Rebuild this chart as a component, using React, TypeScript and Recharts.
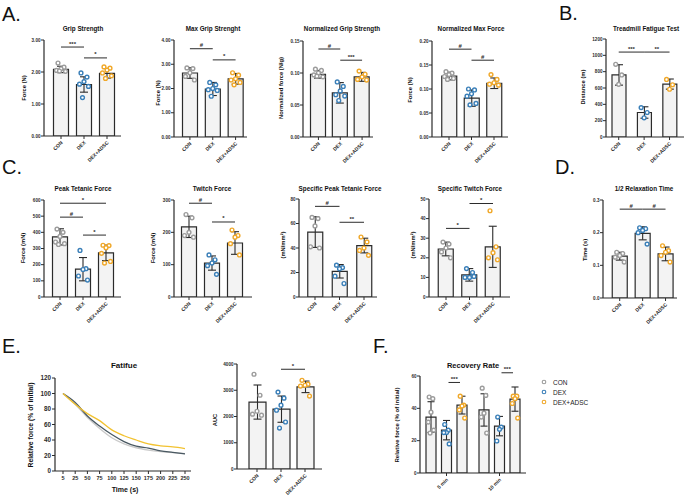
import React from "react";
import {
  ComposedChart,
  LineChart,
  Line,
  Bar,
  ErrorBar,
  Scatter,
  XAxis,
  YAxis,
  ReferenceLine,
  ReferenceDot,
} from "recharts";

const FONT = '"Liberation Sans", Arial, Helvetica, sans-serif';
const INK = "#2b2b2b";
const BAR_FILL = "#f3f3f3";
const GROUPS = ["CON", "DEX", "DEX+ADSC"];
const DOT_COLORS = ["#9c9c9c", "#3a7fb8", "#f0a82a"];
const JITTER = [-3, 3, 0, -4.5, 4.5, -1.5];

type Sig = [number, number, number, string];

// A. grip strength
const gripMean = [2.08, 1.61, 1.96];
const gripSd = [0.1, 0.24, 0.15];
const gripPts = [
  [2.28, 2.15, 2.1, 2.05, 2.02, 2.03],
  [1.97, 1.84, 1.7, 1.62, 1.55, 1.2],
  [2.16, 2.12, 2.06, 1.97, 1.88, 1.8],
];
const gripSig: Sig[] = [[0, 1, 2.78, "***"], [1, 2, 2.44, "*"]];

const maxGripMean = [2.64, 1.98, 2.4];
const maxGripSd = [0.22, 0.27, 0.22];
const maxGripPts = [
  [2.85, 2.82, 2.65, 2.5, 2.35],
  [2.25, 2.15, 2.0, 1.95, 1.92, 1.68],
  [2.65, 2.55, 2.4, 2.35, 2.25, 2.15],
];
const maxGripSig: Sig[] = [[0, 1, 3.64, "#"], [1, 2, 3.18, "*"]];

const normGripMean = [0.098, 0.069, 0.094];
const normGripSd = [0.006, 0.016, 0.007];
const normGripPts = [
  [0.106, 0.104, 0.1, 0.097, 0.094, 0.095],
  [0.086, 0.079, 0.072, 0.066, 0.064, 0.057],
  [0.103, 0.098, 0.094, 0.09, 0.089],
];
const normGripSig: Sig[] = [[0, 1, 0.1375, "#"], [1, 2, 0.12, "***"]];

const normMaxMean = [0.127, 0.081, 0.112];
const normMaxSd = [0.008, 0.017, 0.011];
const normMaxPts = [
  [0.136, 0.133, 0.13, 0.126, 0.122, 0.12],
  [0.1, 0.098, 0.09, 0.085, 0.07, 0.067],
  [0.13, 0.12, 0.113, 0.11, 0.108],
];
const normMaxSig: Sig[] = [[0, 1, 0.183, "#"], [1, 2, 0.16, "#"]];

// B. treadmill
const treadMean = [760, 300, 648];
const treadSd = [125, 70, 62];
const treadPts = [
  [890, 760, 645],
  [360, 300, 235],
  [705, 640, 585],
];
const treadSig: Sig[] = [[0, 1, 1040, "***"], [1, 2, 1040, "**"]];

// C. contractile force
const peakMean = [372, 172, 273];
const peakSd = [50, 72, 48];
const peakPts = [
  [420, 400, 375, 340, 330, 325],
  [288, 175, 170, 130, 105],
  [320, 318, 305, 270, 220, 210],
];
const peakSig: Sig[] = [[0, 2, 580, "*"], [0, 1, 494, "#"], [1, 2, 383, "*"]];

const twitchMean = [217, 105, 167];
const twitchSd = [33, 22, 35];
const twitchPts = [
  [255, 245, 200, 190, 185],
  [130, 115, 105, 97, 70],
  [207, 190, 185, 165, 130],
];
const twitchSig: Sig[] = [[0, 1, 290, "#"], [1, 2, 232, "*"]];

const specPeakMean = [53, 21, 42];
const specPeakSd = [12.5, 5.5, 6];
const specPeakPts = [
  [65, 64, 58, 41, 40],
  [26, 24, 23, 17, 11],
  [49, 45, 40, 38, 34],
];
const specPeakSig: Sig[] = [[0, 1, 74, "#"], [1, 2, 61, "**"]];

const specTwitchMean = [24.5, 11.3, 25.6];
const specTwitchSd = [3.5, 3.2, 10.5];
const specTwitchPts = [
  [28, 27, 25, 23, 20],
  [14.5, 12.5, 10, 10, 10.5],
  [44, 25.6, 22.6, 20, 19],
];
const specTwitchSig: Sig[] = [[0, 1, 35, "*"], [1, 2, 47.7, "*"]];

// D. relaxation
const relaxMean = [0.128, 0.198, 0.135];
const relaxSd = [0.012, 0.02, 0.021];
const relaxPts = [
  [0.14, 0.136, 0.13, 0.125, 0.11],
  [0.215, 0.212, 0.207, 0.2, 0.165],
  [0.16, 0.145, 0.14, 0.13, 0.11],
];
const relaxSig: Sig[] = [[0, 1, 0.272, "#"], [1, 2, 0.272, "#"]];

// E. fatigue
const fatigueTimes = ["5", "25", "50", "75", "100", "125", "150", "175", "200", "225", "250"];
const fatigueCon = [100, 86, 69, 55, 43, 35, 30, 27, 25, 23.6, 22.5];
const fatigueDex = [100, 88.5, 71, 58, 47, 38, 32, 29.5, 26, 24, 22];
const fatigueAdsc = [100, 86, 74, 65, 53, 45.5, 40, 35, 32.5, 31, 29];

const aucMean = [2550, 2280, 3130];
const aucSd = [650, 500, 220];
const aucPts = [
  [3610, 2810, 2200, 2090, 2050],
  [2930, 2700, 2430, 2240, 1790, 1560],
  [3380, 3230, 3190, 3160, 2780],
];
const aucSig: Sig[] = [[1, 2, 3800, "*"]];

// F. recovery
const recTimes = ["5 min", "10 min"];
const recMean = [
  [34.6, 39],
  [26.5, 29],
  [42, 45.7],
];
const recSd = [
  [9.5, 10],
  [6, 6],
  [5.5, 7.5],
];
const recPts = [
  [
    [47, 46, 37.6, 31.5, 26.5, 24.7],
    [52.5, 48, 37, 34.6, 24.7],
  ],
  [
    [30, 26.5, 25, 25, 18],
    [34.6, 28.4, 27, 19.8],
  ],
  [
    [47.5, 42, 41.4, 39, 34],
    [47.5, 47.5, 46, 43, 34],
  ],
];
const recSig: [number, number, string][] = [[0, 56, "***"], [1, 62, "***"]];

const range = (a: number, b: number, s: number) => {
  const out: number[] = [];
  for (let v = a; v <= b + 1e-9; v += s) out.push(+v.toFixed(4));
  return out;
};

function AngledTick(props: any) {
  const { x, y, payload } = props;
  const ax = x + 2;
  const ay = y + 2;
  return (
    <text
      x={ax}
      y={ay}
      transform={`rotate(-45 ${ax} ${ay})`}
      textAnchor="end"
      fontSize={5}
      fontWeight="bold"
      fill={INK}
      fontFamily={FONT}
    >
      {payload.value}
    </text>
  );
}

function Title({ x, y, text, size = 6.3 }: any) {
  return (
    <div
      style={{
        position: "absolute",
        left: x,
        top: y,
        transform: "translate(-50%, -50%)",
        fontSize: size,
        fontWeight: "bold",
        whiteSpace: "nowrap",
        color: "#111",
      }}
    >
      {text}
    </div>
  );
}

function YLabel({ x, y, text, size = 5.8 }: any) {
  return (
    <div
      style={{
        position: "absolute",
        left: x,
        top: y,
        transform: "translate(-50%, -50%) rotate(-90deg)",
        fontSize: size,
        fontWeight: "bold",
        whiteSpace: "nowrap",
        color: "#111",
      }}
    >
      {text}
    </div>
  );
}

function PanelLetter({ x, y, text }: any) {
  return (
    <div style={{ position: "absolute", left: x, top: y, fontSize: 20, lineHeight: "20px", color: "#111" }}>
      {text}
    </div>
  );
}

const dotShape = (key: string, color: string | ((p: any) => string), shift: number) => (props: any) => {
  const { cx, cy, payload } = props;
  if (payload == null || payload[key] == null || cx == null || cy == null || !Number.isFinite(cy)) return <g />;
  const c = typeof color === "function" ? color(payload) : color;
  return <circle cx={cx + shift} cy={cy} r={1.9} fill="#fff" stroke={c} strokeWidth={1.4} />;
};

const MT = 14;
const YW = 32;
const XH = 40;
const MR = 2;

function DotBarChart(props: any) {
  const { title, yLabel, means, sds, points, ticks, decimals, sigs, box, barSize = 15 } = props;
  const { ax, axEnd, yTop, yBot, c0, c2, titleX, titleY, labelX, labelY } = box;
  const band = (c2 - c0) / 2;
  const padL = Math.max(0, c0 - band / 2 - ax);
  const padR = Math.max(0, axEnd - c2 - band / 2);
  const width = YW + (axEnd - ax) + MR;
  const height = MT + (yBot - yTop) + XH;
  const rows = GROUPS.map((g, i) => {
    const r: any = { name: g, mean: means[i], sd: sds[i] };
    points[i].forEach((v: number, k: number) => (r[`p${k}`] = v));
    return r;
  });
  const nPts = Math.max(...points.map((p: number[]) => p.length));
  return (
    <>
      {title && <Title x={titleX} y={titleY} text={title} />}
      <YLabel x={labelX} y={labelY} text={yLabel} />
      <div style={{ position: "absolute", left: ax - YW, top: yTop - MT }}>
        <ComposedChart width={width} height={height} data={rows} margin={{ top: MT, right: MR, bottom: 0, left: 0 }}>
          <XAxis
            dataKey="name"
            height={XH}
            interval={0}
            padding={{ left: padL, right: padR }}
            tick={<AngledTick />}
            tickSize={3}
            axisLine={{ stroke: INK, strokeWidth: 1.2 }}
            tickLine={{ stroke: INK, strokeWidth: 1 }}
          />
          <YAxis
            width={YW}
            domain={[0, ticks[ticks.length - 1]]}
            ticks={ticks}
            interval={0}
            allowDataOverflow
            tickFormatter={(v: number) => v.toFixed(decimals)}
            tick={{ fontSize: 4.6, fontWeight: "bold", fill: INK, fontFamily: FONT }}
            tickSize={3}
            tickMargin={0.5}
            axisLine={{ stroke: INK, strokeWidth: 1.2 }}
            tickLine={{ stroke: INK, strokeWidth: 1 }}
          />
          <Bar dataKey="mean" barSize={barSize} fill={BAR_FILL} stroke={INK} strokeWidth={1.2} isAnimationActive={false}>
            <ErrorBar dataKey="sd" width={4} stroke={INK} strokeWidth={1.1} direction="y" />
          </Bar>
          {Array.from({ length: nPts }, (_, k) => (
            <Scatter
              key={k}
              dataKey={`p${k}`}
              isAnimationActive={false}
              shape={dotShape(`p${k}`, (p: any) => DOT_COLORS[GROUPS.indexOf(p.name)], JITTER[k])}
            />
          ))}
          {sigs.map((s: Sig, i: number) => (
            <ReferenceLine
              key={i}
              segment={[
                { x: GROUPS[s[0]], y: s[2] },
                { x: GROUPS[s[1]], y: s[2] },
              ]}
              stroke={INK}
              strokeWidth={1}
              ifOverflow="visible"
              label={{ value: s[3], position: "top", offset: 1.5, fontSize: 6, fill: INK, fontWeight: "bold" }}
            />
          ))}
        </ComposedChart>
      </div>
    </>
  );
}

function FatigueChart() {
  const ax = 55;
  const axEnd = 191;
  const yTop = 378;
  const yBot = 471;
  const rows = fatigueTimes.map((t, i) => ({ t, con: fatigueCon[i], dex: fatigueDex[i], adsc: fatigueAdsc[i] }));
  return (
    <>
      <Title x={124} y={365} text="Fatifue" size={8} />
      <YLabel x={30} y={425} text="Relative force (% of initial)" size={6.8} />
      <Title x={125} y={489} text="Time (s)" size={7} />
      <div style={{ position: "absolute", left: ax - YW, top: yTop - MT }}>
        <LineChart width={YW + (axEnd - ax) + MR} height={MT + (yBot - yTop) + 16} data={rows} margin={{ top: MT, right: MR, bottom: 0, left: 0 }}>
          <XAxis
            dataKey="t"
            scale="point"
            height={16}
            interval={0}
            padding={{ left: 8, right: 6 }}
            tick={{ fontSize: 5.5, fontWeight: "bold", fill: INK, fontFamily: FONT }}
            tickSize={3}
            axisLine={{ stroke: INK, strokeWidth: 1.2 }}
            tickLine={{ stroke: INK, strokeWidth: 1 }}
          />
          <YAxis
            width={YW}
            domain={[0, 120]}
            ticks={range(0, 120, 20)}
            interval={0}
            tick={{ fontSize: 6.3, fontWeight: "bold", fill: INK, fontFamily: FONT }}
            tickSize={3}
            tickMargin={1}
            axisLine={{ stroke: INK, strokeWidth: 1.2 }}
            tickLine={{ stroke: INK, strokeWidth: 1 }}
          />
          <Line dataKey="con" type="monotone" stroke="#c9c9c9" strokeWidth={1.3} dot={false} isAnimationActive={false} />
          <Line dataKey="dex" type="monotone" stroke="#4a5962" strokeWidth={1.3} dot={false} isAnimationActive={false} />
          <Line dataKey="adsc" type="monotone" stroke="#f2c230" strokeWidth={1.3} dot={false} isAnimationActive={false} />
        </LineChart>
      </div>
    </>
  );
}

function RecoveryChart() {
  const ax = 420;
  const axEnd = 526;
  const yTop = 376;
  const yBot = 473;
  const barSize = 10;
  const barGap = 5.5;
  const pitch = barSize + barGap;
  const keys = ["con", "dex", "adsc"];
  const rows = recTimes.map((t, j) => {
    const r: any = { t };
    keys.forEach((k, s) => {
      r[k] = recMean[s][j];
      r[`${k}Sd`] = recSd[s][j];
      recPts[s][j].forEach((v, n) => (r[`${k}_p${n}`] = v));
    });
    return r;
  });
  return (
    <>
      <Title x={473} y={365} text="Recovery Rate" size={7.5} />
      <YLabel x={397} y={425} text="Relative force (% of initial)" size={6} />
      <div style={{ position: "absolute", left: ax - YW, top: yTop - MT }}>
        <ComposedChart
          width={YW + (axEnd - ax) + MR}
          height={MT + (yBot - yTop) + XH}
          data={rows}
          barGap={barGap}
          margin={{ top: MT, right: MR, bottom: 0, left: 0 }}
        >
          <XAxis
            dataKey="t"
            height={XH}
            interval={0}
            tick={<AngledTick />}
            tickSize={3}
            axisLine={{ stroke: INK, strokeWidth: 1.2 }}
            tickLine={{ stroke: INK, strokeWidth: 1 }}
          />
          <YAxis
            width={YW}
            domain={[0, 60]}
            ticks={range(0, 60, 20)}
            interval={0}
            allowDataOverflow
            tick={{ fontSize: 4.6, fontWeight: "bold", fill: INK, fontFamily: FONT }}
            tickSize={3}
            tickMargin={0.5}
            axisLine={{ stroke: INK, strokeWidth: 1.2 }}
            tickLine={{ stroke: INK, strokeWidth: 1 }}
          />
          {keys.map((k) => (
            <Bar key={k} dataKey={k} barSize={barSize} fill={BAR_FILL} stroke={INK} strokeWidth={1.2} isAnimationActive={false}>
              <ErrorBar dataKey={`${k}Sd`} width={3.5} stroke={INK} strokeWidth={1.1} direction="y" />
            </Bar>
          ))}
          {keys.map((k, s) =>
            Array.from({ length: 6 }, (_, n) => (
              <Scatter
                key={`${k}${n}`}
                dataKey={`${k}_p${n}`}
                isAnimationActive={false}
                shape={dotShape(`${k}_p${n}`, DOT_COLORS[s], (s - 1) * pitch + JITTER[n] * 0.6)}
              />
            ))
          )}
          {recSig.map((s, i) => (
            <ReferenceDot
              key={i}
              x={recTimes[s[0]]}
              y={s[1]}
              ifOverflow="visible"
              shape={(p: any) => (
                <g>
                  <line x1={p.cx + 2} x2={p.cx + pitch - 2} y1={p.cy} y2={p.cy} stroke={INK} strokeWidth={1} />
                  <text x={p.cx + pitch / 2} y={p.cy - 1.5} textAnchor="middle" fontSize={6} fontWeight="bold" fill={INK} fontFamily={FONT}>
                    {s[2]}
                  </text>
                </g>
              )}
            />
          ))}
        </ComposedChart>
      </div>
      <div style={{ position: "absolute", left: 541, top: 377 }}>
        {GROUPS.map((g, i) => (
          <div key={g} style={{ display: "flex", alignItems: "center", height: 10, fontSize: 6.5, color: "#222" }}>
            <svg width={10} height={6}>
              <circle cx={3} cy={3} r={1.8} fill="#fff" stroke={DOT_COLORS[i]} strokeWidth={1.1} />
            </svg>
            <span style={{ marginLeft: 2 }}>{g}</span>
          </div>
        ))}
      </div>
    </>
  );
}

export default function App() {
  return (
    <div
      style={{
        position: "absolute",
        left: 0,
        top: 0,
        width: 685,
        height: 502,
        background: "#fff",
        fontFamily: FONT,
        overflow: "hidden",
      }}
    >
      <PanelLetter x={2} y={4} text="A." />
      <PanelLetter x={559} y={3} text="B." />
      <PanelLetter x={2} y={157} text="C." />
      <PanelLetter x={555} y={157} text="D." />
      <PanelLetter x={2} y={336} text="E." />
      <PanelLetter x={373} y={336} text="F." />

      <DotBarChart
        title="Grip Strength"
        yLabel="Force (N)"
        means={gripMean}
        sds={gripSd}
        points={gripPts}
        ticks={range(0, 3, 1)}
        decimals={2}
        sigs={gripSig}
        box={{ ax: 44, axEnd: 121, yTop: 40, yBot: 136, c0: 61, c2: 107, titleX: 83, titleY: 28, labelX: 24, labelY: 88 }}
      />
      <DotBarChart
        title="Max Grip Strenght"
        yLabel="Force (N)"
        means={maxGripMean}
        sds={maxGripSd}
        points={maxGripPts}
        ticks={range(0, 4, 1)}
        decimals={2}
        sigs={maxGripSig}
        box={{ ax: 174, axEnd: 247, yTop: 40, yBot: 137, c0: 190, c2: 236, titleX: 213, titleY: 28, labelX: 158, labelY: 93 }}
      />
      <DotBarChart
        title="Normalized Grip Strength"
        yLabel="Normalized force (N/g)"
        means={normGripMean}
        sds={normGripSd}
        points={normGripPts}
        ticks={range(0, 0.15, 0.05)}
        decimals={2}
        sigs={normGripSig}
        box={{ ax: 303, axEnd: 373, yTop: 41, yBot: 137, c0: 319, c2: 365, titleX: 342, titleY: 28, labelX: 281, labelY: 88 }}
      />
      <DotBarChart
        title="Normalized Max Force"
        yLabel="Force (N)"
        means={normMaxMean}
        sds={normMaxSd}
        points={normMaxPts}
        ticks={range(0, 0.2, 0.05)}
        decimals={2}
        sigs={normMaxSig}
        box={{ ax: 432, axEnd: 508, yTop: 41, yBot: 137, c0: 449, c2: 494, titleX: 471, titleY: 28, labelX: 410, labelY: 90 }}
      />
      <DotBarChart
        title="Treadmill Fatigue Test"
        yLabel="Distance (m)"
        means={treadMean}
        sds={treadSd}
        points={treadPts}
        ticks={range(0, 1200, 200)}
        decimals={0}
        sigs={treadSig}
        barSize={14}
        box={{ ax: 606, axEnd: 684, yTop: 39, yBot: 137, c0: 616, c2: 669, titleX: 646, titleY: 28, labelX: 583, labelY: 87 }}
      />

      <DotBarChart
        title="Peak Tetanic Force"
        yLabel="Force (mN)"
        means={peakMean}
        sds={peakSd}
        points={peakPts}
        ticks={range(0, 600, 100)}
        decimals={0}
        sigs={peakSig}
        box={{ ax: 44, axEnd: 121, yTop: 200, yBot: 297, c0: 60, c2: 106, titleX: 83, titleY: 188, labelX: 23, labelY: 248 }}
      />
      <DotBarChart
        title="Twitch Force"
        yLabel="Force (mN)"
        means={twitchMean}
        sds={twitchSd}
        points={twitchPts}
        ticks={range(0, 300, 100)}
        decimals={0}
        sigs={twitchSig}
        box={{ ax: 174, axEnd: 252, yTop: 200, yBot: 297, c0: 189, c2: 235, titleX: 212, titleY: 188, labelX: 153, labelY: 248 }}
      />
      <DotBarChart
        title="Specific Peak Tetanic Force"
        yLabel="(mN/mm²)"
        means={specPeakMean}
        sds={specPeakSd}
        points={specPeakPts}
        ticks={range(0, 80, 20)}
        decimals={0}
        sigs={specPeakSig}
        box={{ ax: 299, axEnd: 377, yTop: 199, yBot: 297, c0: 315, c2: 364, titleX: 340, titleY: 188, labelX: 283, labelY: 245 }}
      />
      <DotBarChart
        title="Specific Twitch Force"
        yLabel="(mN/mm²)"
        means={specTwitchMean}
        sds={specTwitchSd}
        points={specTwitchPts}
        ticks={range(0, 50, 10)}
        decimals={0}
        sigs={specTwitchSig}
        box={{ ax: 429, axEnd: 510, yTop: 199, yBot: 297, c0: 446, c2: 493, titleX: 470, titleY: 188, labelX: 413, labelY: 245 }}
      />
      <DotBarChart
        title="1/2 Relaxation Time"
        yLabel="Time (s)"
        means={relaxMean}
        sds={relaxSd}
        points={relaxPts}
        ticks={range(0, 0.3, 0.1)}
        decimals={1}
        sigs={relaxSig}
        box={{ ax: 603, axEnd: 677, yTop: 200, yBot: 298, c0: 620, c2: 667, titleX: 644, titleY: 188, labelX: 585, labelY: 250 }}
      />

      <FatigueChart />
      <DotBarChart
        yLabel="AUC"
        means={aucMean}
        sds={aucSd}
        points={aucPts}
        ticks={range(0, 4000, 1000)}
        decimals={0}
        sigs={aucSig}
        barSize={17}
        box={{ ax: 237, axEnd: 322, yTop: 364, yBot: 469, c0: 257, c2: 305, labelX: 215, labelY: 420 }}
      />
      <RecoveryChart />
    </div>
  );
}
